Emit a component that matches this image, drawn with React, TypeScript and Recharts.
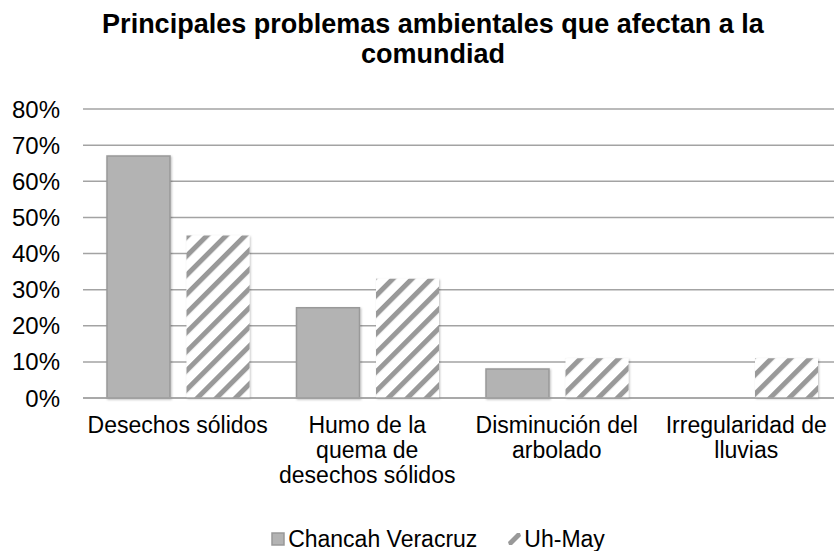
import React from 'react';
import { BarChart, Bar, XAxis, YAxis, CartesianGrid } from 'recharts';

const categories = [
    'Desechos sólidos',
    'Humo de la\nquema de\ndesechos sólidos',
    'Disminución del\narbolado',
    'Irregularidad de\nlluvias',
];
const chancahVeracruz = [67, 25, 8, 0];
const uhMay = [45, 33, 11, 11];
const yTicks = [0, 10, 20, 30, 40, 50, 60, 70, 80];

const data = categories.map((name, i) => ({
    name,
    chancah: chancahVeracruz[i],
    uhmay: uhMay[i],
}));

const FONT = '"Liberation Sans", Arial, sans-serif';

const CategoryTick = (props: any) => {
    const { x, y, payload } = props;
    const lines = String(payload.value).split('\n');
    return (
        <text x={x} y={y} textAnchor="middle" fontSize={23} fill="#000" fontFamily={FONT}>
            {lines.map((line, i) => (
                <tspan key={i} x={x} dy={i === 0 ? 35 : 25}>{line}</tspan>
            ))}
        </text>
    );
};

export default function App() {
    return (
        <div
            style={{
                position: 'absolute',
                left: 0,
                top: 0,
                width: 834,
                height: 551,
                overflow: 'hidden',
                background: '#fff',
                fontFamily: FONT,
            }}
        >
            <div
                style={{
                    position: 'absolute',
                    left: 0,
                    top: 9,
                    width: 866,
                    textAlign: 'center',
                    fontWeight: 'bold',
                    fontSize: 27,
                    lineHeight: '30px',
                    color: '#000',
                }}
            >
                Principales problemas ambientales que afectan a la
                <br />
                comundiad
            </div>

            {/* the plot runs a little past the right edge, as in the source */}
            <BarChart
                width={846}
                height={551}
                data={data}
                margin={{ top: 109, right: 5, left: 0, bottom: 63 }}
                barCategoryGap={24}
                barGap={16.5}
            >
                <defs>
                    <pattern id="stripes" patternUnits="userSpaceOnUse" width="13.5" height="13.5" patternTransform="rotate(45)">
                        <rect width="13.5" height="13.5" fill="#fff" />
                        <rect x="0" y="0" width="5" height="13.5" fill="#999" />
                    </pattern>
                    <filter id="shadow" x="-10%" y="-10%" width="130%" height="130%">
                        <feDropShadow dx="1" dy="1" stdDeviation="1.2" floodColor="#000" floodOpacity="0.25" />
                    </filter>
                </defs>
                <CartesianGrid vertical={false} stroke="#a3a3a3" strokeWidth={1.5} />
                <XAxis
                    dataKey="name"
                    tick={<CategoryTick />}
                    tickLine={false}
                    axisLine={{ stroke: '#a3a3a3', strokeWidth: 1.5 }}
                    tickSize={0}
                    tickMargin={0}
                    height={90}
                    interval={0}
                />
                <YAxis
                    domain={[0, 80]}
                    ticks={yTicks}
                    tickFormatter={(v: number) => `${v}%`}
                    tick={{ fontSize: 24, fill: '#000', fontFamily: FONT }}
                    tickLine={false}
                    axisLine={false}
                    tickSize={0}
                    tickMargin={23}
                    width={83}
                />
                <Bar
                    dataKey="chancah"
                    fill="#b3b3b3"
                    stroke="#999"
                    strokeWidth={1.5}
                    filter="url(#shadow)"
                    isAnimationActive={false}
                />
                <Bar
                    dataKey="uhmay"
                    fill="url(#stripes)"
                    filter="url(#shadow)"
                    isAnimationActive={false}
                />
            </BarChart>

            {/* Legend */}
            <div
                style={{
                    position: 'absolute',
                    left: 0,
                    top: 526,
                    width: 876,
                    display: 'flex',
                    justifyContent: 'center',
                    alignItems: 'center',
                    fontSize: 23,
                    color: '#000',
                    lineHeight: '26px',
                }}
            >
                <svg width={14} height={14} style={{ marginRight: 3 }}>
                    <rect x={1} y={1} width={12} height={12} fill="#b3b3b3" stroke="#999" strokeWidth={1.5} />
                </svg>
                <span>Chancah Veracruz</span>
                <svg width={15} height={14} style={{ marginLeft: 30, marginRight: 2 }}>
                    <polygon points="2,13 5,13 14,4 13,1 10,1 1,10" fill="#999" />
                </svg>
                <span>Uh-May</span>
            </div>
        </div>
    );
}
